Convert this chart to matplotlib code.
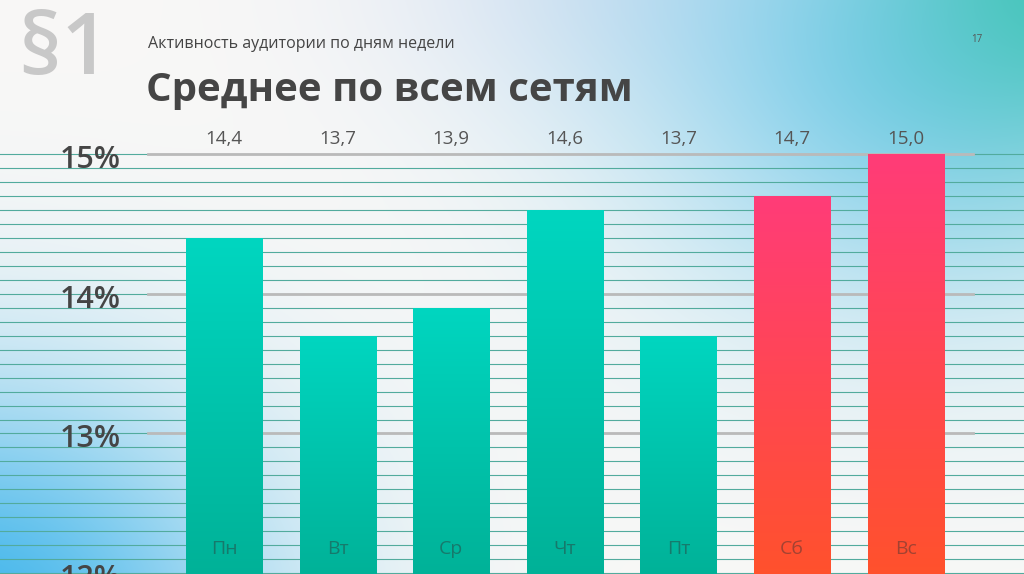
import numpy as np
import matplotlib.pyplot as plt

# data
days = ['Пн', 'Вт', 'Ср', 'Чт', 'Пт', 'Сб', 'Вс']
values = [14.4, 13.7, 13.9, 14.6, 13.7, 14.7, 15.0]
value_labels = ['14,4', '13,7', '13,9', '14,6', '13,7', '14,7', '15,0']
weekend = [False, False, False, False, False, True, True]
yticks = [12, 13, 14, 15]

plt.rcParams['font.family'] = ['Open Sans', 'DejaVu Sans']

W, H = 1024, 574
fig = plt.figure(figsize=(W / 100, H / 100), dpi=100)

# soft gradient background of the slide
yy, xx = np.mgrid[0:H, 0:W]


def blob(img, cx, cy, sx, sy, color, strength):
    w = strength * np.exp(-(((xx - cx) / sx) ** 2 + ((yy - cy) / sy) ** 2) / 2)
    c = np.array(color) / 255
    return img * (1 - w[..., None]) + c * w[..., None]


img = np.ones((H, W, 3)) * np.array([249, 248, 247]) / 255
img = blob(img, 640, -30, 180, 100, (205, 215, 240), 0.55)
img = blob(img, 920, 60, 210, 180, (110, 200, 235), 0.85)
img = blob(img, 1070, -30, 130, 130, (60, 195, 180), 0.9)
img = blob(img, -40, 620, 210, 170, (60, 180, 235), 0.95)

bg = fig.add_axes([0, 0, 1, 1], zorder=0)
bg.imshow(img, aspect='auto')
bg.axis('off')

ax = fig.add_axes([0, 0, 1, 1], zorder=1)
ax.patch.set_alpha(0)

step = 113.6  # pixels between bar centres
x = np.arange(len(days))
xlim = (-224 / step, (W - 224) / step)
ylim = (12 - 1 / 140, 15 + 155 / 140)

# thin teal rules every 0.1
for y in np.arange(12, 15.001, 0.1):
    ax.axhline(y, color='#52ab9d', lw=0.8, zorder=1)
# grey gridlines
for t in yticks[1:]:
    ax.axhline(t, xmin=148 / W, xmax=973 / W, color='#bababa', lw=2, zorder=2)

bw = 0.67
bars = ax.bar(x, np.array(values) - 11, bottom=11, width=bw, color='none', zorder=3)
for xi, v, wk, b in zip(x, values, weekend, bars):
    if wk:
        top, bot = np.array([255, 60, 120]), np.array([255, 82, 42])
    else:
        top, bot = np.array([0, 214, 192]), np.array([0, 176, 150])
    t = np.linspace(0, 1, 256)[:, None]
    grad = ((1 - t) * top + t * bot) / 255
    im = ax.imshow(grad[:, None, :], extent=[xi - bw / 2, xi + bw / 2, 11.9, v],
                   aspect='auto', zorder=3)
    im.set_clip_path(b)

for xi, lab, d in zip(x, value_labels, days):
    ax.text(xi, 15.11, lab, ha='center', va='center', fontsize=13.5, color='#555555')
    ax.text(xi, 12.17, d, ha='center', va='center', fontsize=14,
            color='#333333', alpha=0.45, zorder=4)

for t in yticks:
    ax.text(121 / W, t - 0.04, f'{t}%', transform=ax.get_yaxis_transform(),
            ha='right', va='center', fontsize=22, fontweight='semibold', color='#454545')

ax.set_xlim(*xlim)
ax.set_ylim(*ylim)
ax.axis('off')

fig.text(18 / W, 1 - 52 / H, '§1', fontsize=62, fontweight='semibold',
         color='#c8c8c8', va='center')
fig.text(148 / W, 1 - 44 / H, 'Активность аудитории по дням недели',
         fontsize=11.5, color='#444444', va='center')
fig.text(146 / W, 1 - 90 / H, 'Среднее по всем сетям', fontsize=29,
         fontweight='bold', color='#454545', va='center')
fig.text(977 / W, 1 - 40 / H, '17', fontsize=7, color='#555555', ha='center', va='center')

fig.savefig('out.png', dpi=100)
